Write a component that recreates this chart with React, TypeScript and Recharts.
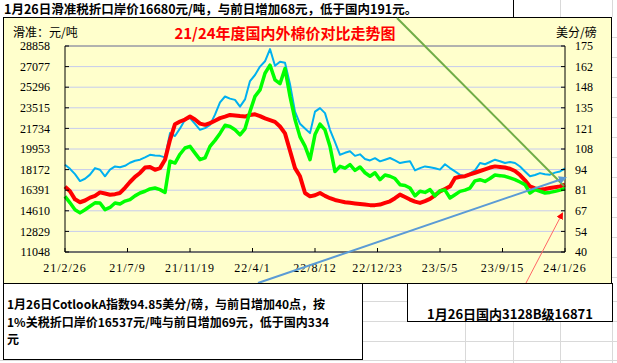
import React from 'react';
import { LineChart, Line, XAxis, YAxis, CartesianGrid, ReferenceLine } from 'recharts';

// x axis tick labels (dates) and their positions on the index scale
const dateLabels = ['21/2/26', '21/7/9', '21/11/19', '22/4/1', '22/8/12', '22/12/23', '23/5/5', '23/9/15', '24/1/26'];
const xTicks = [0, 12.5, 25, 37.5, 50, 62.5, 75, 87.5, 100];

// left axis (元/吨) and right axis (美分/磅)
const leftTicks = [11048, 12829, 14610, 16391, 18172, 19953, 21734, 23515, 25296, 27077, 28858];
const rightTicks = [40, 53.5, 67, 80.5, 94, 107.5, 121, 134.5, 148, 161.5, 175];
const rightTickLabels = ['40', '54', '67', '81', '94', '108', '121', '135', '148', '162', '175'];

// 国内3128B (元/吨)
const domestic = [
  16700, 16300, 15600, 15350, 15500, 15750, 15900, 16200, 16100, 16000,
  16050, 16150, 16600, 17100, 17550, 17880, 18350, 18400, 18150, 18300,
  19030, 20750, 22100, 22330, 22500, 22760, 22500, 22150, 22040, 22190,
  22400, 22620, 22750, 22900, 22850, 22800, 22760, 22900, 22950, 22800,
  22600, 22450, 22300, 21900, 21300, 19800, 18300, 17590, 16150, 15860,
  15950, 16150, 15900, 15700, 15550, 15450, 15350, 15300, 15250, 15200,
  15150, 15100, 15100, 15150, 15300, 15430, 15700, 16010, 15800, 15580,
  15400, 15290, 15450, 15640, 15950, 16290, 16500, 16720, 17450, 17550,
  17600, 17750, 17900, 18050, 18200, 18350, 18450, 18400, 18350, 18250,
  18050, 17700, 17250, 16720, 16550, 16440, 16500, 16580, 16650, 16720,
  16871,
];

// 1%关税折口岸价 (元/吨)
const importPrice = [
  15860, 15300, 14700, 14430, 14700, 15000, 15300, 15290, 14710, 14900,
  15290, 15200, 15450, 15580, 15900, 16150, 16300, 16500, 16580, 16440,
  16200, 18900, 18740, 19500, 20040, 20180, 19600, 19030, 19180, 20180,
  20700, 21300, 22000, 21900, 21620, 21180, 21700, 23200, 24500, 25060,
  26500, 27200, 25930, 25600, 26900, 24500, 22500, 21000, 20200, 19030,
  21200, 22100, 21600, 20180, 18000, 18450, 18300, 18600, 18100, 18400,
  17900, 17600, 17900, 17300, 17700, 17600, 17400, 16870, 16800, 16580,
  15900, 16300, 16200, 16440, 15900, 16350, 16400, 15720, 16000, 16290,
  16400, 16580, 17200, 17300, 17150, 17400, 17700, 17650, 17590, 17450,
  17300, 17100, 16870, 16150, 16440, 16300, 16150, 16200, 16290, 16400,
  16537,
];

// Cotlook A 指数 (美分/磅)
const cotlookA = [
  97.2, 94.5, 91, 86.5, 88, 90.7, 95, 93.9, 89.6, 94,
  96.1, 95.5, 96.5, 98.5, 99.8, 100.5, 102, 103.7, 103.2, 103,
  102, 117.9, 116, 121, 126.6, 127.7, 124, 120.1, 121.2, 123.3,
  130, 138, 141.9, 140.5, 139.7, 135.3, 140, 152, 156, 161.5,
  165, 173, 162, 164.7, 164, 150, 132, 124, 121, 117.9,
  132, 134.3, 131, 120.1, 112, 103.7, 105, 106, 103, 104,
  101, 100, 101.5, 99.4, 100.5, 101.6, 100, 98.3, 99, 99.4,
  93.5, 95, 96.1, 95.5, 94.9, 94, 97.5, 95, 92.8, 90.5,
  89.6, 91.5, 93.5, 98.3, 97.5, 99, 100.5, 99.5, 98.3, 99,
  98.3, 96, 92.8, 89.6, 90.5, 91.7, 91, 90.7, 92, 92.8,
  94.85,
];

const data = domestic.map((v, i) => ({
  idx: i,
  domestic: v,
  importPrice: importPrice[i],
  cotlook: cotlookA[i],
}));

const numFont = '"Liberation Serif", serif';
const cjkFont = '"Noto Sans CJK SC", sans-serif';

const LeftTick = (props: any) => {
  const { x, y, payload } = props;
  return (
    <g>
      <line x1={x} x2={x + 4} y1={y} y2={y} stroke="#000" />
      <text x={x - 15} y={y} dy="0.35em" textAnchor="end" fontSize={12} fontFamily={numFont} fill="#000">
        {payload.value}
      </text>
    </g>
  );
};

const RightTick = (props: any) => {
  const { x, y, payload, index } = props;
  return (
    <g>
      <line x1={x - 4} x2={x} y1={y} y2={y} stroke="#000" />
      <text x={x + 10} y={y} dy="0.35em" textAnchor="start" fontSize={12} fontFamily={numFont} fill="#000">
        {rightTickLabels[index] ?? payload.value}
      </text>
    </g>
  );
};

const BottomTick = (props: any) => {
  const { x, y, index } = props;
  return (
    <g>
      <line x1={x} x2={x} y1={y} y2={y - 4} stroke="#000" />
      <text x={x} y={y + 16} dy="0.35em" textAnchor="middle" fontSize={12} letterSpacing={1} fontFamily={numFont} fill="#000">
        {dateLabels[index]}
      </text>
    </g>
  );
};

const gridColor = '#d9d9d9';

export default function App() {
  const hLines = [37, 57, 77, 97, 117, 137, 157, 177, 197, 217, 237, 257, 277];
  return (
    <div style={{ position: 'absolute', left: 0, top: 0, width: 617, height: 363, background: '#fff', overflow: 'hidden' }}>
      {/* spreadsheet cell lines */}
      <svg width={617} height={363} style={{ position: 'absolute', left: 0, top: 0 }}>
        {[465, 513, 560, 612].map((x) => (
          <line key={'vb' + x} x1={x + 0.5} x2={x + 0.5} y1={283} y2={363} stroke={gridColor} />
        ))}
        {[560, 612].map((x) => (
          <line key={'vt' + x} x1={x + 0.5} x2={x + 0.5} y1={0} y2={17} stroke={gridColor} />
        ))}
        {[301, 321, 341, 360].map((y) => (
          <line key={'hb' + y} x1={363} x2={617} y1={y + 0.5} y2={y + 0.5} stroke={gridColor} />
        ))}
        {[360].map((y) => (
          <line key={'hl' + y} x1={0} x2={363} y1={y + 0.5} y2={y + 0.5} stroke={gridColor} />
        ))}
        {hLines.map((y) => (
          <line key={'hr' + y} x1={611} x2={617} y1={y + 0.5} y2={y + 0.5} stroke={gridColor} />
        ))}
      </svg>

      {/* top text box */}
      <div
        style={{
          position: 'absolute', left: 0, top: 0, width: 514, height: 18, boxSizing: 'border-box',
          borderRight: '1px solid #000', background: '#fff',
          fontFamily: cjkFont, fontWeight: 700, fontSize: 12.5, lineHeight: '17px', paddingLeft: 4, whiteSpace: 'nowrap',
        }}
      >
        1月26日滑准税折口岸价16680元/吨，与前日增加68元，低于国内191元。
      </div>

      {/* chart area */}
      <div
        style={{
          position: 'absolute', left: 3, top: 17, width: 609, height: 267, boxSizing: 'border-box',
          border: '1px solid #000', background: '#FFFFCC',
        }}
      />

      <div style={{ position: 'absolute', left: 13, top: 25, fontFamily: cjkFont, fontSize: 12, lineHeight: '13px', whiteSpace: 'nowrap' }}>
        滑准：元/吨
      </div>
      <div style={{ position: 'absolute', left: 160, width: 250, top: 24, textAlign: 'center', fontFamily: cjkFont, fontWeight: 700, fontSize: 15, lineHeight: '18px', color: '#FF0000', whiteSpace: 'nowrap' }}>
        21/24年度国内外棉价对比走势图
      </div>
      <div style={{ position: 'absolute', left: 556, top: 25, fontFamily: cjkFont, fontSize: 12, lineHeight: '13px', whiteSpace: 'nowrap' }}>
        美分/磅
      </div>

      <div style={{ position: 'absolute', left: 0, top: 0 }}>
        <LineChart width={617} height={363} data={data} margin={{ top: 46, right: 0, bottom: 81, left: 0 }}>
          <CartesianGrid yAxisId="left" horizontal vertical={false} stroke="#C6CCEE" />
          <XAxis
            dataKey="idx"
            type="number"
            domain={[0, 100]}
            ticks={xTicks}
            interval={0}
            height={30}
            tickSize={0}
            tickMargin={0}
            tick={<BottomTick />}
            axisLine={{ stroke: '#000' }}
            tickLine={false}
          />
          <YAxis
            yAxisId="left"
            orientation="left"
            width={65}
            domain={[11048, 28858]}
            ticks={leftTicks}
            interval={0}
            tickSize={0}
            tickMargin={0}
            tick={<LeftTick />}
            axisLine={{ stroke: '#000' }}
            tickLine={false}
            allowDataOverflow
          />
          <YAxis
            yAxisId="right"
            orientation="right"
            width={52}
            domain={[40, 175]}
            ticks={rightTicks}
            interval={0}
            tickSize={0}
            tickMargin={0}
            tick={<RightTick />}
            axisLine={{ stroke: '#000' }}
            tickLine={false}
            allowDataOverflow
          />
          <ReferenceLine yAxisId="left" y={28858} stroke="#808080" />
          <Line yAxisId="right" dataKey="cotlook" type="linear" stroke="#00B0F0" strokeWidth={2} dot={false} isAnimationActive={false} strokeLinejoin="round" />
          <Line yAxisId="left" dataKey="domestic" type="linear" stroke="#FF0000" strokeWidth={4} dot={false} isAnimationActive={false} strokeLinejoin="round" />
          <Line yAxisId="left" dataKey="importPrice" type="linear" stroke="#00FF00" strokeWidth={3.5} dot={false} isAnimationActive={false} strokeLinejoin="round" />
        </LineChart>
      </div>

      {/* annotation arrows */}
      <svg width={617} height={363} style={{ position: 'absolute', left: 0, top: 0, pointerEvents: 'none' }}>
        <defs>
          <marker id="arrBlue" markerWidth="8" markerHeight="8" refX="6" refY="4" orient="auto" markerUnits="userSpaceOnUse">
            <path d="M0,0 L8,4 L0,8 z" fill="#5B9BD5" />
          </marker>
          <marker id="arrRed" markerWidth="7" markerHeight="7" refX="5" refY="3.5" orient="auto" markerUnits="userSpaceOnUse">
            <path d="M0,0 L7,3.5 L0,7 z" fill="#FF0000" />
          </marker>
        </defs>
        <line x1={397} y1={18} x2={564} y2={186} stroke="#70AD47" strokeWidth={2} />
        <line x1={258} y1={283} x2={565} y2={178} stroke="#5B9BD5" strokeWidth={2} markerEnd="url(#arrBlue)" />
        <line x1={526} y1={283} x2={562} y2={214} stroke="#FF6666" strokeWidth={1} markerEnd="url(#arrRed)" />
      </svg>

      {/* bottom-left text box */}
      <div
        style={{
          position: 'absolute', left: 3, top: 283, width: 360, height: 77, boxSizing: 'border-box',
          border: '1px solid #000', background: '#fff', display: 'flex', flexDirection: 'column', justifyContent: 'center',
          fontFamily: cjkFont, fontWeight: 700, fontSize: 12, lineHeight: '17.5px', paddingLeft: 3, whiteSpace: 'nowrap',
        }}
      >
        <div>1月26日CotlookA指数94.85美分/磅，与前日增加40点，按</div>
        <div>1%关税折口岸价16537元/吨与前日增加69元，低于国内334</div>
        <div>元</div>
      </div>

      {/* bottom-right text box */}
      <div
        style={{
          position: 'absolute', left: 407, top: 283, width: 206, height: 39, boxSizing: 'border-box',
          border: '1px solid #000', background: '#fff',
          fontFamily: cjkFont, fontWeight: 700, fontSize: 13, lineHeight: '15px', textAlign: 'center', paddingTop: 22, whiteSpace: 'nowrap',
        }}
      >
        1月26日国内3128B级16871
      </div>
    </div>
  );
}
